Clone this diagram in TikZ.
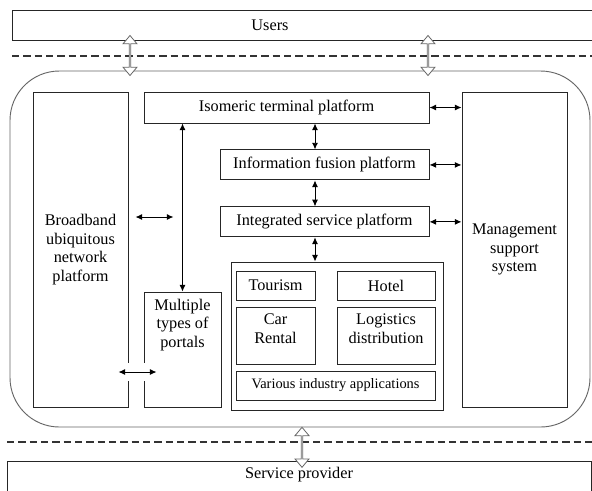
\documentclass[tikz,border=0pt]{standalone}
\usepackage{fontspec}
\setmainfont{Liberation Serif}
\newfontfamily\diagfont{Liberation Serif}
\usepackage{tikz}
\usetikzlibrary{arrows.meta}
\usetikzlibrary{positioning}
\usetikzlibrary{shapes.arrows}

\begin{document}
\begin{tikzpicture}[x=0.75pt, y=-0.75pt, font=\diagfont\fontsize{12.2}{14}\selectfont,
    box/.style={rectangle, draw=black!85, line width=0.7pt, inner sep=1pt, align=center},
    link/.style={{Latex[length=5pt,width=4.5pt]}-{Latex[length=5pt,width=4.5pt]}, line width=0.7pt},
    updown/.style={double arrow, draw=black!60, fill=white, line width=0.6pt, minimum height=30pt,
      minimum width=10.5pt, double arrow head extend=2.2pt, double arrow tip angle=80, inner sep=0pt, rotate=90},
    sepline/.style={dash pattern=on 5.5pt off 3pt, line width=1.2pt, black!80}]

    \useasboundingbox (0,0) rectangle (592,490);
    \clip (0,0) rectangle (592,490);

    % Define nodes
    \node[box, minimum width=441pt, minimum height=22.5pt, label={[xshift=-27pt]center:Users}] (users) at (306,25) {};
    \node[rectangle, draw=black!60, line width=0.7pt, rounded corners=37pt, minimum width=435pt, minimum height=267pt] (outer) at (300,249) {};
    \node[box, minimum width=71.25pt, minimum height=236.25pt] (bb) at (80.5,249.5) {Broadband\\ubiquitous\\network\\platform};
    \node[box, minimum width=213.75pt, minimum height=23.25pt] (iso) at (286.5,107.5) {Isomeric terminal platform};
    \node[box, minimum width=156.75pt, minimum height=22.5pt, below=19.5pt of iso.south east, anchor=north east] (fusion) {Information fusion platform};
    \node[box, minimum width=156.75pt, minimum height=22.5pt, below=19.5pt of fusion] (integ) {Integrated service platform};
    \node[box, minimum width=78.75pt, minimum height=236.25pt] (mgmt) at (514.5,249.5) {Management\\support\\system};
    \node[box, minimum width=57.75pt, minimum height=86.25pt, label={[below=2pt, align=center]north:Multiple\\types of\\portals}] (portals) at (182.5,349.5) {};
    \node[box, minimum width=159pt, minimum height=111pt] (apps) at (337,336) {};
    \node[box, minimum width=59.25pt, minimum height=21.75pt] (tourism) at (275.5,285.5) {Tourism};
    \node[box, minimum width=73.5pt, minimum height=21.75pt] (hotel) at (386,285.5) {Hotel};
    \node[box, minimum width=59.25pt, minimum height=42.75pt, label={[below=2pt, align=center]north:Car\\Rental}] (car) at (275.5,335.5) {};
    \node[box, minimum width=73.5pt, minimum height=42.75pt, label={[below=2pt, align=center]north:Logistics\\distribution}] (logis) at (386,335.5) {};
    \node[box, minimum width=149.25pt, minimum height=21.75pt, font=\diagfont\fontsize{10.8}{13}\selectfont] (various) at (335.5,385.5) {Various industry applications};
    \node[box, minimum width=438pt, minimum height=33pt, label={[yshift=6pt]center:Service provider}] (service) at (299,483) {};

    % Separators
    \draw[sepline] (12,56) -- (600,56);
    \draw[sepline] (7,442) -- (600,442);

    \coordinate (ua) at (130,0);
    \coordinate (ub) at (428,0);
    \coordinate (uc) at (302,0);
    \coordinate (vx) at (315,0);
    \coordinate (hy) at (0,217);
    \coordinate (ly) at (0,372);

    % Connect the nodes
    \path (users.south -| ua) -- node[updown] {} (outer.north -| ua);
    \path (users.south -| ub) -- node[updown] {} (outer.north -| ub);
    \path (outer.south -| uc) -- node[updown, pos=0.6] {} (service.north -| uc);

    \draw[link] (iso.south -| portals.north) -- (portals.north);
    \draw[link] (iso.south -| vx) -- (fusion.north -| vx);
    \draw[link] (fusion.south -| vx) -- (integ.north -| vx);
    \draw[link] (integ.south -| vx) -- (apps.north -| vx);
    \draw[link] (iso.east) -- (mgmt.west |- iso.east);
    \draw[link] (fusion.east) -- (mgmt.west |- fusion.east);
    \draw[link] (integ.east) -- (mgmt.west |- integ.east);
    \draw[link] ([xshift=5.25pt]bb.east |- hy) -- ([xshift=-6.75pt]portals.north |- hy);
    \draw[link, preaction={draw=white, line width=13.5pt, arrows=-}] ([xshift=-7.5pt]bb.east |- ly) -- ([xshift=9.75pt]portals.west |- ly);

\end{tikzpicture}
\end{document}
